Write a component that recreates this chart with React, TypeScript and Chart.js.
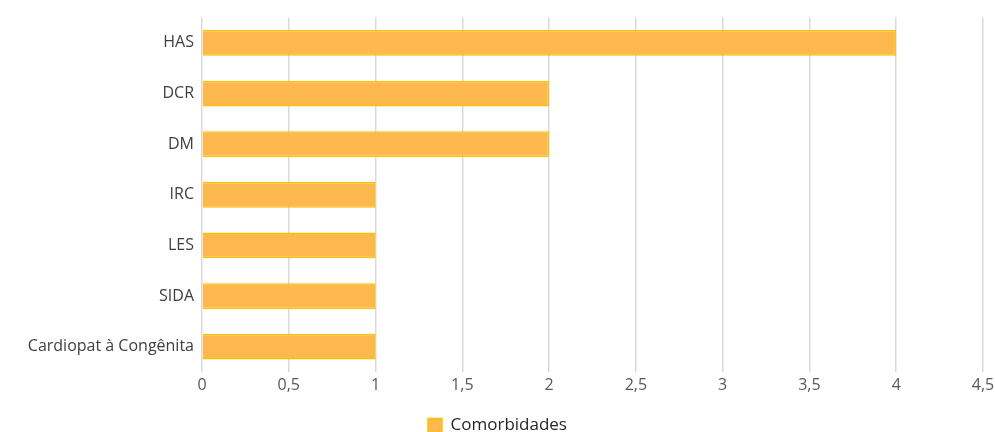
import React, { useEffect, useRef } from "react";
import { Chart, registerables } from "chart.js";

Chart.register(...registerables);

const categories = ["HAS", "DCR", "DM", "IRC", "LES", "SIDA", "Cardiopat à Congênita"];
const comorbidades = [4, 2, 2, 1, 1, 1, 1];
const seriesLabel = "Comorbidades";

const fontFamily = "'Open Sans', 'Liberation Sans', sans-serif";

export default function App() {
  const canvasRef = useRef<HTMLCanvasElement | null>(null);

  useEffect(() => {
    if (!canvasRef.current) return;
    const chart = new Chart(canvasRef.current, {
      type: "bar",
      data: {
        labels: categories,
        datasets: [
          {
            label: seriesLabel,
            data: comorbidades,
            backgroundColor: "#FDB94E",
            borderColor: "#FFC000",
            borderWidth: 1.5,
            barPercentage: 0.51,
            categoryPercentage: 1,
          },
        ],
      },
      options: {
        indexAxis: "y",
        animation: false,
        responsive: false,
        maintainAspectRatio: false,
        layout: { padding: { left: 0, right: 0, top: 13, bottom: 0 } },
        scales: {
          x: {
            min: 0,
            max: 4.5,
            afterFit: (scale: any) => {
              scale.height = 37;
              scale.paddingRight = 12;
            },
            ticks: {
              stepSize: 0.5,
              color: "#595959",
              font: { family: fontFamily, size: 16 },
              padding: 4,
              callback: (v: any) => String(v).replace(".", ","),
            },
            grid: { color: "#d9d9d9", lineWidth: 1.5, drawTicks: false },
            border: { display: false },
          },
          y: {
            afterFit: (scale: any) => {
              scale.width = 202;
            },
            ticks: {
              color: "#404040",
              font: { family: fontFamily, size: 16 },
              padding: 8,
            },
            grid: { display: false, drawTicks: false },
            border: { display: false },
          },
        },
        plugins: {
          legend: {
            position: "bottom",
            labels: {
              color: "#262626",
              font: { family: fontFamily, size: 17 },
              boxWidth: 14,
              boxHeight: 14,
              padding: 8,
            },
          },
          tooltip: { enabled: false },
        },
      },
    });
    return () => chart.destroy();
  }, []);

  return (
    <div
      style={{
        position: "absolute",
        left: 0,
        top: 0,
        width: 995,
        height: 432,
        overflow: "hidden",
        background: "#fff",
      }}
    >
      <canvas ref={canvasRef} width={995} height={444} />
    </div>
  );
}
